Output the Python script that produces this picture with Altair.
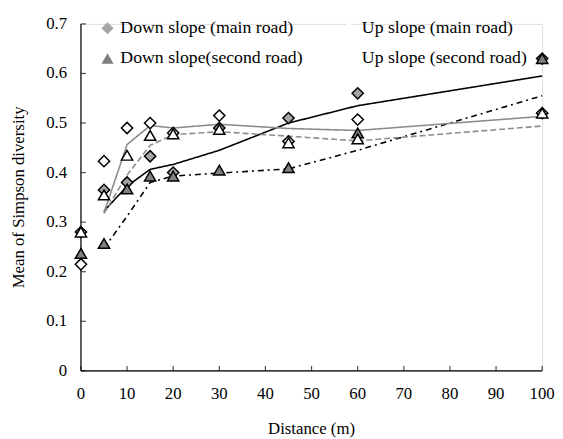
import altair as alt
import pandas as pd

distance = [0, 5, 10, 15, 20, 30, 45, 60, 100]
down_main = [0.28, 0.365, 0.38, 0.433, 0.40, 0.49, 0.51, 0.56, 0.63]
up_main = [0.215, 0.423, 0.49, 0.50, 0.48, 0.515, 0.463, 0.507, 0.52]
down_second = [0.237, 0.257, 0.367, 0.393, 0.393, 0.405, 0.41, 0.48, 0.63]
up_second = [0.28, 0.355, 0.435, 0.475, 0.478, 0.487, 0.46, 0.468, 0.52]

series_names = ["Down slope (main road)", "Up slope (main road)",
                "Down slope(second road)", "Up slope (second road)"]
# legend fills column by column
legend_order = [series_names[0], series_names[2], series_names[1], series_names[3]]
x_ticks = [0, 10, 20, 30, 40, 50, 60, 70, 80, 90, 100]
y_ticks = [0, 0.1, 0.2, 0.3, 0.4, 0.5, 0.6, 0.7]
x_title = ["Distance (m)"]
y_title = ["Mean of Simpson diversity"]

# draw order: down main, down second, up main, up second
draw_order = [(series_names[0], down_main), (series_names[2], down_second),
              (series_names[1], up_main), (series_names[3], up_second)]
rows = []
for name, vals in draw_order:
    for d, v in zip(distance, vals):
        rows.append({"series": name, "distance": d, "value": v})
df = pd.DataFrame(rows)

W, H = 468, 352
FONT = "Liberation Serif"

xscale = alt.Scale(domain=[0, 100], nice=False)
yscale = alt.Scale(domain=[0, 0.7], nice=False)

legend = alt.Legend(title=None, orient="none", legendX=18, legendY=-5, columns=2,
                    columnPadding=37, rowPadding=12, symbolSize=150,
                    symbolStrokeColor="black", symbolStrokeWidth=1.5,
                    labelFont=FONT, labelFontSize=18, labelColor="black",
                    labelOffset=4, labelLimit=400)

shape_scale = alt.Scale(domain=legend_order,
                        range=["diamond", "triangle-up", "diamond", "triangle-up"])
fill_scale = alt.Scale(domain=legend_order,
                       range=["#a6a6a6", "#808080", "white", "white"])

points = alt.Chart(df).mark_point(filled=False, stroke="black", strokeWidth=1.5,
                                  size=130, opacity=1, fillOpacity=1).encode(
    x=alt.X("distance:Q", scale=xscale, axis=None),
    y=alt.Y("value:Q", scale=yscale, axis=None),
    shape=alt.Shape("series:N", scale=shape_scale, legend=legend),
    fill=alt.Fill("series:N", scale=fill_scale, legend=legend),
)

lines = alt.Chart(df).transform_window(
    ma="mean(value)", rn="row_number()", frame=[-1, 0],
    groupby=["series"], sort=[alt.SortField("distance")]
).transform_filter("datum.rn > 1").transform_calculate(
    trend="datum.series"
).mark_line(strokeWidth=1.6).encode(
    x=alt.X("distance:Q", scale=xscale, axis=None),
    y=alt.Y("ma:Q", scale=yscale, axis=None),
    detail="trend:N",
    stroke=alt.Stroke("trend:N", legend=None,
                      scale=alt.Scale(domain=series_names,
                                      range=["black", "#8c8c8c", "black", "#8c8c8c"])),
    strokeDash=alt.StrokeDash("trend:N", legend=None,
                              scale=alt.Scale(domain=series_names,
                                              range=[[1, 0], [1, 0], [6, 4, 2, 4], [6, 3]])),
)

xt = pd.DataFrame({"distance": x_ticks})
yt = pd.DataFrame({"value": y_ticks})
one = pd.DataFrame({"k": [0]})

# axis lines
x_domain = alt.Chart(one).mark_rect(color="black").encode(
    x=alt.value(0), x2=alt.value(W), y=alt.value(H - 0.6), y2=alt.value(H + 0.6))
y_domain = alt.Chart(one).mark_rect(color="black").encode(
    x=alt.value(-0.6), x2=alt.value(0.6), y=alt.value(0), y2=alt.value(H))

# inward ticks
ticks_x = alt.Chart(xt).mark_tick(color="black", size=5, thickness=1.2,
                                  orient="vertical").encode(
    x=alt.X("distance:Q", scale=xscale, axis=None),
    y=alt.value(H - 2.5))
ticks_y = alt.Chart(yt).mark_tick(color="black", size=5, thickness=1.2,
                                  orient="horizontal").encode(
    y=alt.Y("value:Q", scale=yscale, axis=None),
    x=alt.value(2.5))

# tick labels
labels_x = alt.Chart(xt).mark_text(font=FONT, fontSize=17, color="black",
                                   align="center", baseline="middle").encode(
    x=alt.X("distance:Q", scale=xscale, axis=None),
    y=alt.value(H + 24),
    text=alt.Text("distance:Q", format="d"))
labels_y = alt.Chart(yt).mark_text(font=FONT, fontSize=17, color="black",
                                   align="right", baseline="middle").encode(
    y=alt.Y("value:Q", scale=yscale, axis=None),
    x=alt.value(-14),
    text=alt.Text("value:Q", format=".1~f"))

# axis titles
title_x = alt.Chart(pd.DataFrame({"t": x_title})).mark_text(
    font=FONT, fontSize=17, color="black", align="center", baseline="middle").encode(
    x=alt.value(W / 2), y=alt.value(H + 59), text="t:N")
title_y = alt.Chart(pd.DataFrame({"t": y_title})).mark_text(
    font=FONT, fontSize=17, color="black", align="center", baseline="middle",
    angle=270).encode(
    x=alt.value(-63), y=alt.value(H / 2), text="t:N")

chart = alt.layer(lines, x_domain, y_domain, ticks_x, ticks_y, labels_x, labels_y,
                  title_x, title_y, points).properties(
    width=W, height=H,
    autosize=alt.AutoSizeParams(type="none"),
    padding={"left": 74, "top": 13, "right": 13, "bottom": 66},
).resolve_scale(stroke="independent", strokeDash="independent").configure_view(
    strokeWidth=0
).configure(font=FONT).configure_legend(labelFont=FONT)

chart.save("out.html", embed_options={"renderer": "svg", "actions": False})
